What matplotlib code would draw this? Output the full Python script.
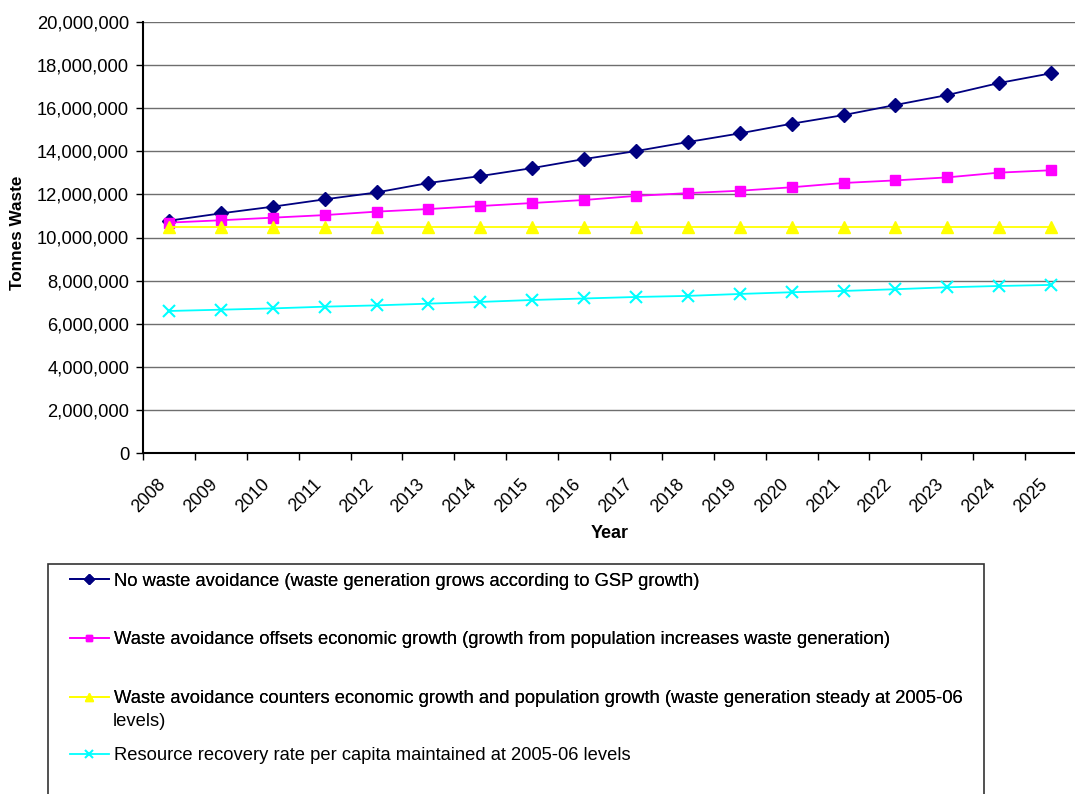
import matplotlib.pyplot as plt
from matplotlib.patches import Rectangle
from matplotlib.ticker import FuncFormatter, MultipleLocator
from matplotlib.transforms import ScaledTranslation

plt.rcParams['font.family'] = ['Liberation Sans', 'DejaVu Sans']

years = [str(y) for y in range(2008, 2026)]

no_avoid = [10.78, 11.12, 11.43, 11.77, 12.09, 12.53, 12.85, 13.22, 13.64, 14.01,
            14.43, 14.83, 15.28, 15.68, 16.15, 16.61, 17.17, 17.62]
offset_econ = [10.69, 10.80, 10.92, 11.04, 11.20, 11.32, 11.46, 11.60, 11.74, 11.93,
               12.06, 12.17, 12.33, 12.53, 12.65, 12.79, 13.01, 13.12]
steady = [10.50] * 18
recovery = [6.59, 6.65, 6.71, 6.79, 6.85, 6.93, 7.01, 7.10, 7.17, 7.24,
            7.29, 7.38, 7.46, 7.52, 7.60, 7.69, 7.75, 7.80]

labels = [
    'No waste avoidance (waste generation grows according to GSP growth)',
    'Waste avoidance offsets economic growth (growth from population increases waste generation)',
    'Waste avoidance counters economic growth and population growth (waste generation steady at 2005-06',
    'Resource recovery rate per capita maintained at 2005-06 levels',
]
label3_cont = 'levels)'

W, H = 1075, 794
fig = plt.figure(figsize=(W / 100, H / 100), dpi=100)
ax = fig.add_axes([143 / W, 1 - 453 / H, 934 / W, 431 / H])

x = list(range(len(years)))
sc = 1e6
h1, = ax.plot(x, [v * sc for v in no_avoid], color='#000080', marker='D', ms=7, lw=1.3)
h2, = ax.plot(x, [v * sc for v in offset_econ], color='#FF00FF', marker='s', ms=7, lw=1.3)
h3, = ax.plot(x, [v * sc for v in steady], color='#FFFF00', marker='^', ms=8, lw=1.3)
h4, = ax.plot(x, [v * sc for v in recovery], color='#00FFFF', marker='x', ms=8, mew=1.5, lw=1.3)

ax.set_xlim(-0.5, len(years) - 0.5)
ax.set_ylim(0, 20e6)
ax.yaxis.set_major_locator(MultipleLocator(2e6))
ax.yaxis.set_major_formatter(FuncFormatter(lambda v, p: '{:,.0f}'.format(v)))
ax.grid(axis='y', color='#6e6e6e', lw=1)
ax.set_axisbelow(True)

ax.set_xticks(x)
ax.set_xticklabels(years, rotation=45, ha='right', rotation_mode='anchor')
ax.set_xticks([i - 0.5 for i in range(len(years) + 1)], minor=True)
ax.tick_params(axis='x', which='major', length=0, pad=10, labelsize=12.8)
ax.tick_params(axis='x', which='minor', length=5, width=1, direction='out')
ax.tick_params(axis='y', length=5, width=1, direction='out', labelsize=13.2, pad=5)
shift = ScaledTranslation(-0.12, -0.09, fig.dpi_scale_trans)
for t in ax.get_xticklabels():
    t.set_transform(t.get_transform() + shift)

for s in ['top', 'right']:
    ax.spines[s].set_visible(False)
ax.spines['left'].set_linewidth(1.5)
ax.spines['bottom'].set_linewidth(1.5)

ax.set_xlabel('Year', fontsize=13, fontweight='bold', va='center')
ax.xaxis.set_label_coords(0.5, (453 - 533) / 431)
ax.set_ylabel('Tonnes Waste', fontsize=12.3, fontweight='bold', va='center', ha='center')
ax.yaxis.set_label_coords((17 - 143) / 934, (453 - 233) / 431)

fig.patches.append(Rectangle((48 / W, -0.1), 936 / W, 0.1 + 1 - 564 / H, transform=fig.transFigure,
                             facecolor='white', edgecolor='#333333', lw=1.2))
leg_kw = dict(frameon=False, fontsize=13.2, handlelength=2.1, handletextpad=0.3,
              markerscale=0.7, borderpad=0, borderaxespad=0)
leg1 = fig.legend([h1, h2, h3], labels[:3], loc='center left',
                  bbox_to_anchor=(70 / W, 1 - 640 / H), labelspacing=2.27, **leg_kw)
fig.legend([h4], labels[3:], loc='center left',
           bbox_to_anchor=(70 / W, 1 - 756 / H), **leg_kw)
fig.add_artist(leg1)
fig.text(113 / W, 1 - 722 / H, label3_cont, fontsize=13.2, va='center', ha='left')

fig.savefig('out.png', dpi=100)
